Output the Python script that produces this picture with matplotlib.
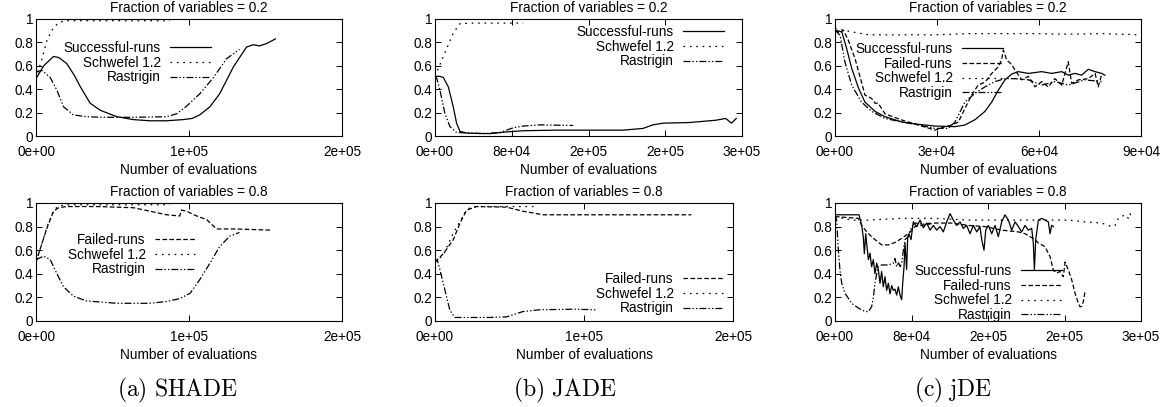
import matplotlib
matplotlib.use("Agg")
import matplotlib.pyplot as plt
from matplotlib.ticker import FormatStrFormatter, FuncFormatter, MultipleLocator

plt.rcParams['font.family'] = ['Liberation Sans', 'DejaVu Sans']
plt.rcParams['font.size'] = 9.8
plt.rcParams['mathtext.fontset'] = 'cm'
plt.rcParams['lines.scale_dashes'] = False

# ---- (a) SHADE, fraction 0.2 ----
shade_a_succ_x = [0, 5000, 11500, 15000, 20000, 25000, 29000, 35400, 42000, 52800, 63700, 74500,
                  85000, 96000, 102000, 107000, 113700, 120000, 129000, 137600, 142000, 146000, 150700, 156500]
shade_a_succ_y = [0.49, 0.60, 0.68, 0.67, 0.62, 0.52, 0.42, 0.28, 0.22, 0.165, 0.14, 0.13,
                  0.13, 0.14, 0.15, 0.18, 0.25, 0.36, 0.59, 0.76, 0.78, 0.77, 0.79, 0.83]
shade_a_schw_x = [0, 3900, 7200, 11500, 15900, 20000, 87600]
shade_a_schw_y = [0.49, 0.66, 0.82, 0.93, 0.975, 0.985, 0.985]
shade_a_rast_x = [0, 4000, 9300, 13700, 18000, 24500, 33000, 42000, 63700, 85400, 92000, 98000,
                  107000, 116000, 124500, 133000]
shade_a_rast_y = [0.55, 0.56, 0.50, 0.39, 0.25, 0.18, 0.165, 0.16, 0.16, 0.165, 0.19, 0.25,
                  0.36, 0.50, 0.66, 0.74]

# ---- (a) SHADE, fraction 0.8 ----
shade_b_fail_x = [0, 3000, 7200, 11500, 14800, 20000, 40000, 63700, 74600, 85400, 94000, 95000,
                  98500, 105000, 111500, 118000, 130000, 154000]
shade_b_fail_y = [0.50, 0.62, 0.79, 0.93, 0.96, 0.97, 0.97, 0.96, 0.93, 0.90, 0.89, 0.94,
                  0.93, 0.89, 0.86, 0.78, 0.78, 0.77]
shade_b_schw_x = [0, 3000, 7200, 11500, 15000, 20000, 87600]
shade_b_schw_y = [0.50, 0.62, 0.80, 0.94, 0.975, 0.985, 0.985]
shade_b_rast_x = [0, 5000, 9300, 13700, 18000, 24500, 33000, 52800, 74000, 85400, 94000, 100700,
                  107000, 113700, 120000, 126700, 133000]
shade_b_rast_y = [0.52, 0.55, 0.52, 0.40, 0.29, 0.21, 0.17, 0.15, 0.15, 0.165, 0.19, 0.235,
                  0.35, 0.49, 0.63, 0.72, 0.75]

# ---- (b) JADE, fraction 0.2 ----
jade_a_succ_x = [0, 5200, 8700, 13900, 19000, 22500, 26000, 33000, 57000, 74600, 92000, 126700,
                 161000, 196000, 217000, 227000, 238000, 265000, 293000, 303000, 309000, 314000]
jade_a_succ_y = [0.51, 0.51, 0.50, 0.42, 0.25, 0.11, 0.04, 0.025, 0.02, 0.035, 0.045, 0.05,
                 0.05, 0.05, 0.065, 0.095, 0.11, 0.115, 0.135, 0.15, 0.11, 0.15]
jade_a_schw_x = [0, 8700, 19000, 26000, 40000, 80000, 92000]
jade_a_schw_y = [0.51, 0.68, 0.88, 0.96, 0.965, 0.965, 0.965]
jade_a_rast_x = [0, 2000, 5200, 10400, 15600, 22500, 50000, 67700, 81500, 92000, 109000, 144000]
jade_a_rast_y = [0.51, 0.49, 0.39, 0.19, 0.08, 0.03, 0.02, 0.03, 0.07, 0.085, 0.095, 0.09]

# ---- (b) JADE, fraction 0.8 ----
jade_b_fail_x = [0, 5600, 12300, 16800, 21200, 28000, 48000, 59000, 66000, 72600, 172000]
jade_b_fail_y = [0.50, 0.57, 0.69, 0.83, 0.94, 0.97, 0.965, 0.93, 0.915, 0.90, 0.90]
jade_b_schw_x = [0, 5600, 12300, 16800, 21200, 25000, 69000]
jade_b_schw_y = [0.50, 0.56, 0.745, 0.845, 0.94, 0.97, 0.97]
jade_b_rast_x = [0, 1500, 3400, 6700, 10000, 13400, 37000, 48000, 59000, 70000, 93000, 108000]
jade_b_rast_y = [0.50, 0.52, 0.43, 0.26, 0.09, 0.03, 0.03, 0.035, 0.08, 0.095, 0.10, 0.095]

# ---- (c) jDE, fraction 0.2 ----
jde_a_succ_x = [0, 2000, 3400, 4900, 6900, 8800, 11800, 14700, 19600, 24500, 29400, 35300, 38200,
                41200, 44100, 46100, 48000, 50000, 52000, 53900, 56900, 60800, 63700, 66700, 68600,
                70600, 72500, 74500, 76500, 78400, 79400]
jde_a_succ_y = [0.905, 0.89, 0.75, 0.58, 0.41, 0.29, 0.21, 0.165, 0.12, 0.10, 0.085, 0.08, 0.094,
                0.14, 0.21, 0.29, 0.39, 0.48, 0.53, 0.55, 0.535, 0.55, 0.535, 0.55, 0.52,
                0.535, 0.52, 0.57, 0.55, 0.535, 0.52]
jde_a_fail_x = [0, 1500, 2450, 3900, 5900, 7800, 8800, 10800, 11800, 12700, 14700, 19600, 24500,
                29400, 32400, 34300, 36300, 38200, 40200, 42100, 44100, 46100, 48000, 49000, 49500,
                50500, 52000, 52900, 54900, 56900, 58800, 60800, 62700, 64700, 66700, 68600, 69600,
                71600, 74500, 76500, 77400, 78400]
jde_a_fail_y = [0.905, 0.88, 0.905, 0.82, 0.66, 0.46, 0.35, 0.32, 0.28, 0.28, 0.19, 0.137, 0.094,
                0.05, 0.08, 0.094, 0.12, 0.235, 0.35, 0.435, 0.46, 0.535, 0.59, 0.65, 0.735,
                0.65, 0.61, 0.565, 0.48, 0.51, 0.42, 0.465, 0.42, 0.49, 0.435, 0.635, 0.45,
                0.48, 0.49, 0.535, 0.42, 0.52]
jde_a_schw_x = [0, 4900, 9800, 19600, 29400, 39200, 49000, 58800, 68600, 78400, 90000]
jde_a_schw_y = [0.92, 0.89, 0.865, 0.865, 0.865, 0.875, 0.875, 0.875, 0.87, 0.875, 0.865]
jde_a_rast_x = [0, 1500, 2900, 4900, 7800, 10800, 14700, 19600, 24500, 29400, 33300, 35300, 38200,
                41200, 44100, 47000, 50000, 52900, 56900, 60800, 64700, 68600, 73500, 78400]
jde_a_rast_y = [0.905, 0.86, 0.635, 0.435, 0.29, 0.21, 0.15, 0.12, 0.094, 0.065, 0.065, 0.12, 0.29,
                0.365, 0.42, 0.465, 0.49, 0.49, 0.48, 0.435, 0.465, 0.435, 0.48, 0.465]

# ---- (c) jDE, fraction 0.8 ----
jde_b_succ_x = [0, 25100, 27900, 29600, 30700, 32100, 33100, 34900, 36600, 38300, 40100, 41800,
                43600, 45300, 47100, 48800, 50500, 52300, 54000, 55800, 57500, 59300, 61000, 62700,
                64500, 66200, 68000, 69700, 70800, 72200, 73200, 74900, 76000, 77400, 79500, 81900,
                85400, 88900, 92400, 95900, 99400, 102800, 106300, 109800, 113300, 116800, 120300,
                123800, 127200, 130700, 134200, 137700, 141200, 144700, 148200, 151600, 153400,
                155800, 157600, 160400, 163900, 167400, 170800, 174300, 177800, 181300, 184800,
                188300, 191800, 195200, 198700, 202200, 205700, 207400, 208500, 209900, 212700,
                216200, 219600, 223100, 224900, 226600, 228400]
jde_b_succ_y = [0.90, 0.90, 0.81, 0.71, 0.57, 0.74, 0.66, 0.52, 0.575, 0.46, 0.52, 0.40,
                0.49, 0.435, 0.32, 0.42, 0.29, 0.375, 0.26, 0.32, 0.23, 0.30, 0.26, 0.27,
                0.22, 0.29, 0.22, 0.18, 0.32, 0.46, 0.66, 0.435, 0.71, 0.74, 0.69, 0.84,
                0.80, 0.855, 0.79, 0.83, 0.77, 0.81, 0.77, 0.80, 0.755, 0.84, 0.91,
                0.855, 0.81, 0.84, 0.785, 0.81, 0.74, 0.81, 0.755, 0.80, 0.69,
                0.60, 0.77, 0.81, 0.74, 0.81, 0.715, 0.84, 0.90, 0.855, 0.77,
                0.84, 0.80, 0.755, 0.81, 0.77, 0.785, 0.66, 0.43, 0.69, 0.855,
                0.87, 0.855, 0.84, 0.74, 0.81, 0.80]
jde_b_fail_x = [0, 24400, 27900, 34900, 41800, 48800, 55800, 62700, 69700, 76700, 83700, 90600,
                104600, 122000, 139400, 156900, 174300, 191800, 198700, 209200, 212700, 219600,
                224900, 228400, 231900, 235300, 238800, 240600, 244100, 247500, 251000, 254500,
                256300, 258000, 259700, 261500]
jde_b_fail_y = [0.885, 0.87, 0.81, 0.74, 0.69, 0.645, 0.645, 0.665, 0.70, 0.74, 0.80, 0.81,
                0.83, 0.83, 0.81, 0.80, 0.77, 0.755, 0.74, 0.69, 0.66, 0.63,
                0.545, 0.43, 0.405, 0.42, 0.375, 0.50, 0.43, 0.35, 0.235, 0.15,
                0.12, 0.125, 0.165, 0.25]
jde_b_schw_x = [0, 17400, 34900, 69700, 104600, 139400, 191800, 226600, 244100, 261500, 278900,
                289400, 292900, 296300, 303300, 306800, 308500, 310300]
jde_b_schw_y = [0.885, 0.855, 0.855, 0.87, 0.87, 0.855, 0.855, 0.855, 0.855, 0.84, 0.83,
                0.80, 0.81, 0.87, 0.90, 0.87, 0.91, 0.87]
jde_b_rast_x = [0, 1700, 3500, 5200, 7000, 10500, 17400, 24400, 31400, 34900, 38300, 40100, 41800,
                43600, 45300, 48800, 55800, 61000, 62700, 64500, 66200, 68000, 69700, 71500, 73200,
                76700, 80200, 83700, 92000, 100000]
jde_b_rast_y = [0.90, 0.855, 0.60, 0.43, 0.32, 0.235, 0.15, 0.11, 0.08, 0.08, 0.12, 0.20, 0.32,
                0.40, 0.46, 0.475, 0.475, 0.49, 0.53, 0.46, 0.50, 0.46, 0.49, 0.60, 0.69,
                0.715, 0.80, 0.83, 0.82, 0.83]

W, H = 1169, 407
fig = plt.figure(figsize=(W / 100, H / 100), dpi=100)

styles = {
    'Successful-runs': dict(linestyle='-'),
    'Failed-runs': dict(dashes=(3.3, 1.7)),
    'Schwefel 1.2': dict(dashes=(1.2, 3.4)),
    'Rastrigin': dict(dashes=(5.0, 1.5, 1.0, 1.5, 1.0, 1.5)),
}


def make_panel(box, xmax, xstep, title, series, legend_anchor):
    left, top, right, bottom = box
    ax = fig.add_axes([left / W, 1 - bottom / H, (right - left) / W, (bottom - top) / H])
    for label, xs, ys in series:
        ax.plot(xs, ys, color='black', lw=0.9, label=label, **styles[label])
    ax.set_xlim(0, xmax)
    ax.set_ylim(0, 1)
    ax.xaxis.set_major_locator(MultipleLocator(xstep))
    ax.xaxis.set_major_formatter(FormatStrFormatter('%.0e'))
    ax.yaxis.set_major_locator(MultipleLocator(0.2))
    ax.yaxis.set_major_formatter(FuncFormatter(lambda v, p: '%g' % round(v, 2)))
    ax.tick_params(direction='in', top=True, right=True, length=4.5, width=0.7)
    ax.tick_params(axis='x', pad=6.5)
    ax.tick_params(axis='y', pad=2)
    for sp in ax.spines.values():
        sp.set_linewidth(0.8)
    ax.set_title(title, pad=5.0, fontsize=9.8)
    ax.set_xlabel('Number of evaluations', labelpad=3)
    ax.legend(loc='upper right', bbox_to_anchor=(legend_anchor[0] / W, 1 - legend_anchor[1] / H),
              bbox_transform=fig.transFigure, frameon=False, markerfirst=False,
              handlelength=3.0, handletextpad=0.7, labelspacing=0.05, borderpad=0,
              borderaxespad=0)
    return ax


make_panel((36, 19, 342, 136), 200000, 100000, 'Fraction of variables = 0.2',
           [('Successful-runs', shade_a_succ_x, shade_a_succ_y),
            ('Schwefel 1.2', shade_a_schw_x, shade_a_schw_y),
            ('Rastrigin', shade_a_rast_x, shade_a_rast_y)], (211, 41))
make_panel((36, 203, 342, 321), 200000, 100000, 'Fraction of variables = 0.8',
           [('Failed-runs', shade_b_fail_x, shade_b_fail_y),
            ('Schwefel 1.2', shade_b_schw_x, shade_b_schw_y),
            ('Rastrigin', shade_b_rast_x, shade_b_rast_y)], (196, 233))
make_panel((435, 19, 742, 136), 320000, 80000, 'Fraction of variables = 0.2',
           [('Successful-runs', jade_a_succ_x, jade_a_succ_y),
            ('Schwefel 1.2', jade_a_schw_x, jade_a_schw_y),
            ('Rastrigin', jade_a_rast_x, jade_a_rast_y)], (724, 25))
make_panel((435, 203, 733, 321), 200000, 100000, 'Fraction of variables = 0.8',
           [('Failed-runs', jade_b_fail_x, jade_b_fail_y),
            ('Schwefel 1.2', jade_b_schw_x, jade_b_schw_y),
            ('Rastrigin', jade_b_rast_x, jade_b_rast_y)], (724, 272))
make_panel((835, 19, 1141, 136), 90000, 30000, 'Fraction of variables = 0.2',
           [('Successful-runs', jde_a_succ_x, jde_a_succ_y),
            ('Failed-runs', jde_a_fail_x, jde_a_fail_y),
            ('Schwefel 1.2', jde_a_schw_x, jde_a_schw_y),
            ('Rastrigin', jde_a_rast_x, jde_a_rast_y)], (1003, 42))
make_panel((835, 203, 1141, 321), 320000, 80000, 'Fraction of variables = 0.8',
           [('Successful-runs', jde_b_succ_x, jde_b_succ_y),
            ('Failed-runs', jde_b_fail_x, jde_b_fail_y),
            ('Schwefel 1.2', jde_b_schw_x, jde_b_schw_y),
            ('Rastrigin', jde_b_rast_x, jde_b_rast_y)], (1062, 264))

# sub-figure captions
captions = [r'$\mathrm{(a)\ SHADE}$', r'$\mathrm{(b)\ JADE}$', r'$\mathrm{(c)\ jDE}$']
caption_x = [177, 565, 953]
for cap, cx in zip(captions, caption_x):
    fig.text(cx / W, 1 - 390 / H, cap, ha='center', va='center', fontsize=17)

fig.savefig('out.png', dpi=100)
